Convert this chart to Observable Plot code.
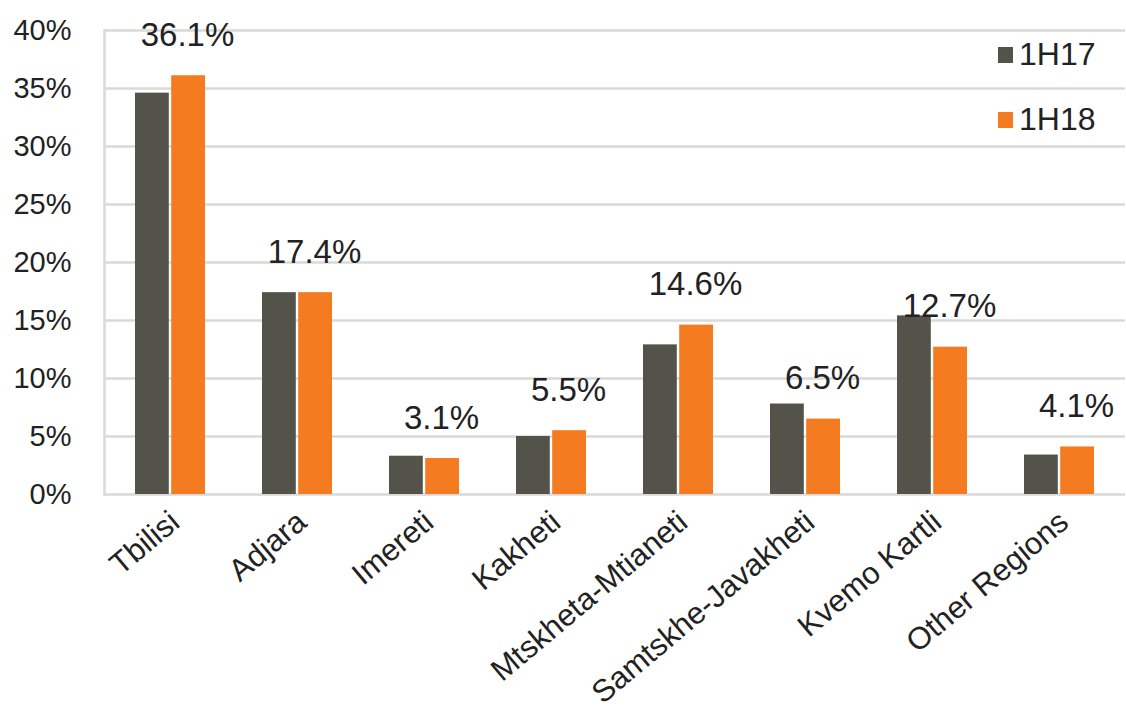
<!DOCTYPE html>
<html>
<head>
<meta charset="utf-8">
<script src="https://cdn.jsdelivr.net/npm/d3@7"></script>
<script src="https://cdn.jsdelivr.net/npm/@observablehq/plot@0.6"></script>
<style>
  html, body { margin: 0; padding: 0; background: #fff; }
  #wrap { position: relative; width: 1126px; height: 709px; }
  .legend { position: absolute; font-family: "Liberation Sans", Arial, sans-serif; font-size: 32px; color: #222; display: flex; align-items: center; }
  .legend .sw { width: 15px; height: 16px; margin-right: 6px; }
</style>
</head>
<body>
<div id="wrap"></div>
<script>
const regions = ["Tbilisi", "Adjara", "Imereti", "Kakheti", "Mtskheta-Mtianeti", "Samtskhe-Javakheti", "Kvemo Kartli", "Other Regions"];
const series = ["1H17", "1H18"];
const values1H17 = [34.6, 17.4, 3.3, 5.0, 12.9, 7.8, 15.4, 3.4];
const values1H18 = [36.1, 17.4, 3.1, 5.5, 14.6, 6.5, 12.7, 4.1];
const yTicks = [0, 5, 10, 15, 20, 25, 30, 35, 40];
const colors = ["#54534a", "#f47b20"];

const d17 = regions.map((r, i) => ({region: r, series: series[0], value: values1H17[i]}));
const d18 = regions.map((r, i) => ({region: r, series: series[1], value: values1H18[i]}));

const font = "'Liberation Sans', Arial, sans-serif";

const chart = Plot.plot({
  width: 1126,
  height: 709,
  marginLeft: 104,
  marginRight: 1,
  marginTop: 30,
  marginBottom: 215,
  style: {fontFamily: font, fontSize: "29px", color: "#222", background: "#fff"},
  x: {domain: regions, paddingInner: 0.45, paddingOuter: 0.227, label: null, tickSize: 0, tickPadding: 27, tickRotate: -40},
  y: {domain: [0, 40], ticks: yTicks, tickFormat: d => d + "%", label: null, tickSize: 0, tickPadding: 33},
  marks: [
    Plot.ruleY(yTicks, {stroke: "#d9d9d9", strokeWidth: 2.5}),
    Plot.frame({anchor: "left", stroke: "#d9d9d9", strokeWidth: 2.5}),
    Plot.barY(d17, {x: "region", y: "value", fill: colors[0], insetRight: 36.2}),
    Plot.barY(d18, {x: "region", y: "value", fill: colors[1], insetLeft: 36.2}),
    Plot.text(d18, {x: "region", y: "value", text: d => d.value.toFixed(1) + "%", dx: 17, dy: -30, lineAnchor: "bottom", textAnchor: "middle", fontSize: 33, fill: "#222"})
  ]
});

// enlarge and shift the rotated category labels to match reference
d3.select(chart).selectAll("[aria-label='x-axis tick label'] text").attr("dx", 6).attr("font-size", 31);

const wrap = document.getElementById("wrap");
wrap.appendChild(chart);

series.forEach((s, i) => {
  const el = document.createElement("div");
  el.className = "legend";
  el.style.left = "998px";
  el.style.top = (i === 0 ? 36 : 101) + "px";
  el.innerHTML = `<span class="sw" style="background:${colors[i]}"></span><span>${s}</span>`;
  wrap.appendChild(el);
});
</script>
</body>
</html>
